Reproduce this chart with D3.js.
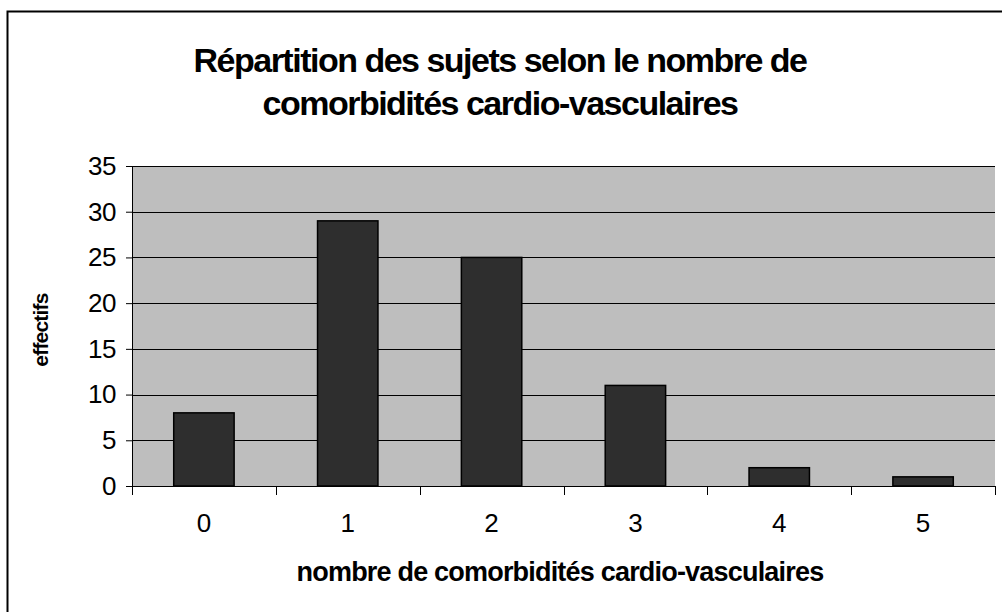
<!DOCTYPE html>
<html>
<head>
<meta charset="utf-8">
<script src="https://cdn.jsdelivr.net/npm/d3@7"></script>
<style>
  body { margin: 0; background: #fff; }
  svg { display: block; font-family: "Liberation Sans", Arial, sans-serif; }
</style>
</head>
<body>
<div id="chart"></div>
<script>
const categories = ['0', '1', '2', '3', '4', '5'];
const counts = [8, 29, 25, 11, 2, 1];
const yTicks = [0, 5, 10, 15, 20, 25, 30, 35];
const titleLines = ['Répartition des sujets selon le nombre de', 'comorbidités cardio-vasculaires'];

const width = 1002, height = 612;
const margin = { top: 166, right: 7, bottom: 126, left: 132 };
const innerW = width - margin.left - margin.right;
const innerH = height - margin.top - margin.bottom;

const svg = d3.select('#chart').append('svg')
  .attr('width', width)
  .attr('height', height);

// outer frame (cut at right and bottom edges)
svg.append('rect')
  .attr('x', 7.5).attr('y', 11.5)
  .attr('width', 1010).attr('height', 620)
  .attr('fill', 'none')
  .attr('stroke', '#000')
  .attr('stroke-width', 2);

// title
svg.append('text')
  .attr('text-anchor', 'middle')
  .attr('font-weight', 'bold')
  .attr('font-size', 34)
  .attr('letter-spacing', -1.5)
  .selectAll('tspan')
  .data(titleLines)
  .enter()
  .append('tspan')
  .attr('x', 500)
  .attr('y', (d, i) => 72 + i * 43)
  .text(d => d);

const g = svg.append('g')
  .attr('transform', 'translate(' + margin.left + ',' + margin.top + ')');

const x = d3.scaleBand()
  .domain(categories)
  .range([0, innerW])
  .paddingInner(0.58)
  .paddingOuter(0.29);

const y = d3.scaleLinear()
  .domain([0, 35])
  .range([innerH, 0]);

// plot area
g.append('rect')
  .attr('width', innerW)
  .attr('height', innerH)
  .attr('fill', '#bebebe');

// gridlines
g.selectAll('.grid')
  .data(yTicks.slice(1))
  .enter()
  .append('line')
  .attr('x1', 0).attr('x2', innerW)
  .attr('y1', d => Math.round(y(d)) + 0.5)
  .attr('y2', d => Math.round(y(d)) + 0.5)
  .attr('stroke', '#000')
  .attr('stroke-width', 1);

// bars
g.selectAll('.bar')
  .data(counts)
  .enter()
  .append('rect')
  .attr('class', 'bar')
  .attr('x', (d, i) => x(categories[i]))
  .attr('y', d => y(d))
  .attr('width', x.bandwidth())
  .attr('height', d => innerH - y(d))
  .attr('fill', '#2e2e2e')
  .attr('stroke', '#000')
  .attr('stroke-width', 1.5);

// Y axis
const yAxis = g.append('g')
  .call(d3.axisLeft(y).tickValues(yTicks).tickSize(6).tickPadding(10));
yAxis.selectAll('text')
  .attr('font-size', 26)
  .attr('fill', '#000')
  .attr('letter-spacing', -0.5)
  .attr('font-family', '"Liberation Sans", Arial, sans-serif');
yAxis.select('.domain').attr('stroke', '#000').attr('d', 'M0.5,0V' + innerH);

// X axis: ticks at category boundaries
const boundaries = d3.range(categories.length + 1).map(i => i * innerW / categories.length);
const xAxis = g.append('g').attr('transform', 'translate(0,' + innerH + ')');
xAxis.append('line')
  .attr('x1', 0).attr('x2', innerW)
  .attr('y1', 0.5).attr('y2', 0.5)
  .attr('stroke', '#000');
xAxis.selectAll('.tick')
  .data(boundaries)
  .enter()
  .append('line')
  .attr('x1', d => Math.round(d) + 0.5)
  .attr('x2', d => Math.round(d) + 0.5)
  .attr('y1', 0).attr('y2', 9)
  .attr('stroke', '#000');
xAxis.selectAll('.lbl')
  .data(categories)
  .enter()
  .append('text')
  .attr('x', d => x(d) + x.bandwidth() / 2)
  .attr('y', 46)
  .attr('text-anchor', 'middle')
  .attr('font-size', 26)
  .text(d => d);

// axis titles
svg.append('text')
  .attr('x', 560)
  .attr('y', 581)
  .attr('text-anchor', 'middle')
  .attr('font-weight', 'bold')
  .attr('font-size', 27)
  .attr('letter-spacing', -0.8)
  .text('nombre de comorbidités cardio-vasculaires');

svg.append('text')
  .attr('transform', 'translate(48,330) rotate(-90)')
  .attr('text-anchor', 'middle')
  .attr('font-weight', 'bold')
  .attr('font-size', 21)
  .attr('letter-spacing', -0.8)
  .text('effectifs');
</script>
</body>
</html>
